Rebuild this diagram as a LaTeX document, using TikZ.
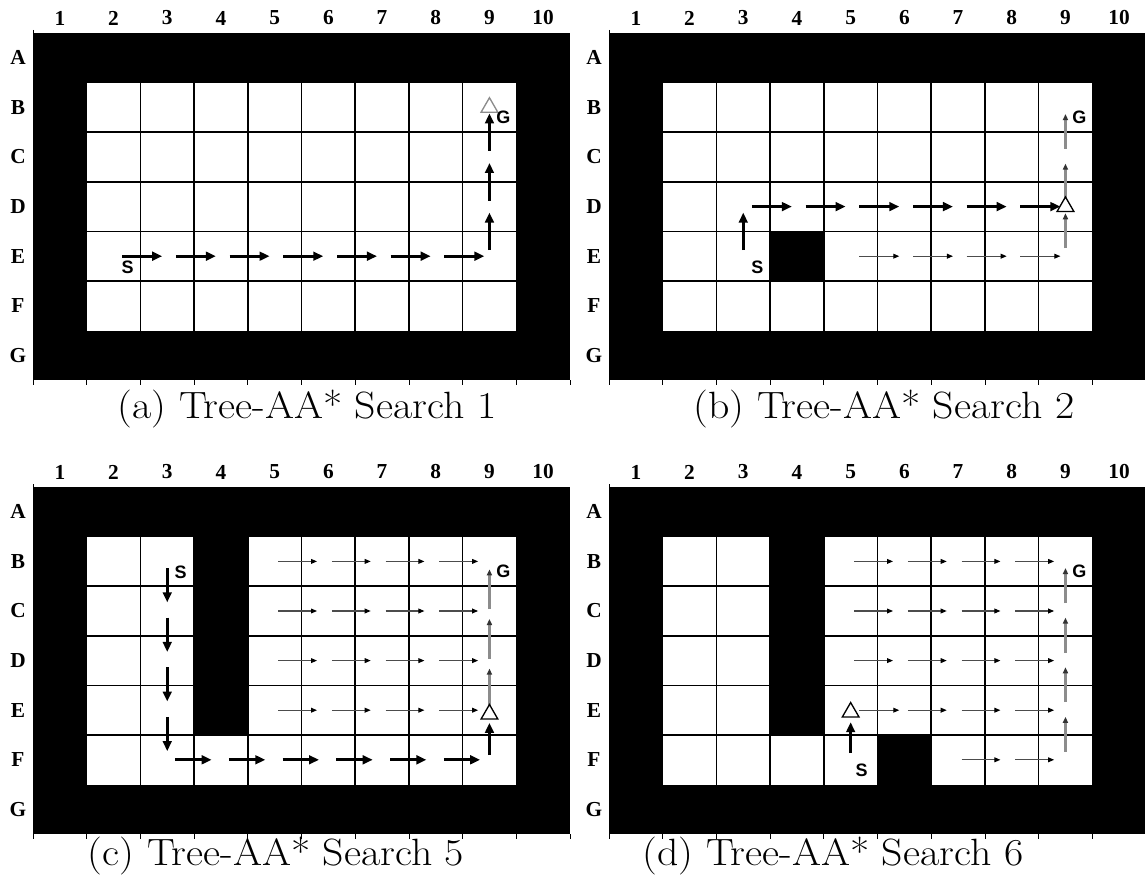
\documentclass[tikz,border=0pt]{standalone}
\usepackage{fontspec}
\newfontfamily\lblfont{Liberation Serif}
\newfontfamily\sgfont{Liberation Sans}
\usetikzlibrary{arrows.meta,shapes.geometric}
\newcommand\CW{53.7}
\newcommand\RH{49.6}
\tikzset{
  wall/.style={fill=black},
  gridline/.style={draw=black, line width=1.1pt},
  axisline/.style={draw=black, line width=0.6pt},
  axlabel/.style={font=\lblfont\bfseries\fontsize{16}{16}\selectfont, inner sep=0pt},
  capstyle/.style={font=\fontsize{28.5}{30}\selectfont, inner sep=0pt},
  sglabel/.style={font=\sgfont\bfseries\fontsize{13.5}{13.5}\selectfont, inner sep=0pt},
  patharrow/.style={draw=black, line width=2.3pt, -{Triangle[length=7.5pt,width=6.5pt]}},
  thinarrow/.style={draw=black!70, line width=0.8pt, -{Triangle[length=4.5pt,width=3.6pt,color=black]}},
  grayarrow/.style={draw=black!45, line width=1.8pt, -{Triangle[length=4.5pt,width=3.8pt,color=black!80]}},
  hsh/.style={shorten <=6.5pt, shorten >=3.8pt},
  hshb/.style={shorten <=2.6pt, shorten >=8.5pt},
  vsh/.style={shorten <=4.5pt, shorten >=4.5pt},
  gsh/.style={shorten <=6pt, shorten >=5pt},
  goal/.style={regular polygon, regular polygon sides=3, minimum size=14.5pt, inner sep=0pt, outer sep=0pt, draw=black, fill=white, line width=1pt},
}
% #1 name, #2 x0, #3 y0, #4 caption, #5 caption x, #6 caption y
\newcommand\mkpanel[6]{%
  \fill[wall] (#2,#3) rectangle ({#2+10*\CW},{#3+7*\RH});
  \fill[white] ({#2+\CW},{#3+\RH}) rectangle ({#2+9*\CW},{#3+6*\RH});
  \foreach \k in {2,...,8}
    \draw[gridline] ({#2+\k*\CW},{#3+\RH}) -- ({#2+\k*\CW},{#3+6*\RH});
  \foreach \k in {2,...,5}
    \draw[gridline] ({#2+\CW},{#3+\k*\RH}) -- ({#2+9*\CW},{#3+\k*\RH});
  \draw[axisline] (#2,{#3-3}) -- (#2,{#3+7*\RH+5});
  \foreach \k in {1,...,10}
    \draw[axisline] ({#2+\k*\CW},{#3+7*\RH}) -- ({#2+\k*\CW},{#3+7*\RH+5});
  \foreach \c in {1,...,10}{
    \node[axlabel] (#1-col\c) at ({#2+(\c-0.5)*\CW},{#3-15}) {\c};
    \foreach \r [count=\ri] in {A,B,C,D,E,F,G}
      \coordinate (#1-\c-\r) at ({#2+(\c-0.5)*\CW},{#3+(\ri-0.5)*\RH});
  }
  \foreach \r [count=\ri] in {A,B,C,D,E,F,G}
    \node[axlabel] (#1-row\r) at ({#2-15},{#3+(\ri-0.5)*\RH}) {\r};
  \node[capstyle] (#1-cap) at (#5,#6) {\scalebox{1.1}[1]{#4}};
}
% black cells: x0, y0, column, first row index, last row index
\newcommand\blk[5]{%
  \fill[wall] ({#1+(#3-1)*\CW-0.5},{#2+(#4-1)*\RH-0.5}) rectangle ({#1+#3*\CW+0.5},{#2+#5*\RH+0.5});
}
\begin{document}
\begin{tikzpicture}[x=0.75pt,y=-0.75pt]
\fill[white] (0,0) rectangle (1145,887);
\useasboundingbox (0,0) rectangle (1145,887);

% ---------------- (a)
\mkpanel{a}{33}{33}{(a) Tree-AA* Search 1}{307}{409}
\node[goal, draw=black!45] (a-goal) at (a-9-B) {};
\foreach \c [count=\n from 3] in {2,...,8}
  \draw[patharrow,hsh] (a-\c-E) -- (a-\n-E);
\draw[patharrow,vsh] (a-9-E) -- (a-9-D);
\draw[patharrow,vsh] (a-9-D) -- (a-9-C);
\draw[patharrow,vsh] (a-9-C) -- (a-9-B);
\node[sglabel, xshift=10.5pt, yshift=-7.5pt] (a-G) at (a-9-B) {G};
\node[sglabel, xshift=10.5pt, yshift=-8.25pt] (a-S) at (a-2-E) {S};

% ---------------- (b)
\mkpanel{b}{609}{33}{(b) Tree-AA* Search 2}{884}{409}
\blk{609}{33}{4}{5}{5}
\draw[patharrow,vsh] (b-3-E) -- (b-3-D);
\foreach \c [count=\n from 4] in {3,...,8}
  \draw[patharrow,hsh] (b-\c-D) -- (b-\n-D);
\foreach \c [count=\n from 6] in {5,...,8}
  \draw[thinarrow,hsh] (b-\c-E) -- (b-\n-E);
\draw[grayarrow,gsh] (b-9-E) -- (b-9-D);
\draw[grayarrow,gsh] (b-9-D) -- (b-9-C);
\draw[grayarrow,gsh] (b-9-C) -- (b-9-B);
\node[goal] (b-goal) at (b-9-D) {};
\node[sglabel, xshift=10.5pt, yshift=-7.5pt] (b-G) at (b-9-B) {G};
\node[sglabel, xshift=10.5pt, yshift=-8.25pt] (b-S) at (b-3-E) {S};

% ---------------- (c)
\mkpanel{c}{33}{487}{(c) Tree-AA* Search 5}{276}{856}
\blk{33}{487}{4}{2}{5}
\draw[patharrow,shorten <=5pt,shorten >=6.5pt] (c-3-B) -- (c-3-C);
\draw[patharrow,shorten <=5pt,shorten >=6.5pt] (c-3-C) -- (c-3-D);
\draw[patharrow,shorten <=5pt,shorten >=6.5pt] (c-3-D) -- (c-3-E);
\draw[patharrow,shorten <=5pt,shorten >=6.5pt] (c-3-E) -- (c-3-F);
\foreach \c [count=\n from 4] in {3,...,8}
  \draw[patharrow,shorten <=6pt,shorten >=7pt] (c-\c-F) -- (c-\n-F);
\draw[patharrow,shorten <=3.5pt,shorten >=9.5pt] (c-9-F) -- (c-9-E);
\foreach \r in {B,C,D,E}
  \foreach \c [count=\n from 6] in {5,...,8}
    \draw[thinarrow,hshb] (c-\c-\r) -- (c-\n-\r);
\draw[grayarrow,shorten <=1.5pt,shorten >=6pt] (c-9-E) -- (c-9-D);
\draw[grayarrow,shorten <=1.5pt,shorten >=6pt] (c-9-D) -- (c-9-C);
\draw[grayarrow,shorten <=1.5pt,shorten >=6pt] (c-9-C) -- (c-9-B);
\node[goal, yshift=-3pt] (c-goal) at (c-9-E) {};
\node[sglabel, xshift=10.5pt, yshift=-7.5pt] (c-G) at (c-9-B) {G};
\node[sglabel, xshift=10pt, yshift=-8pt] (c-S) at (c-3-B) {S};

% ---------------- (d)
\mkpanel{d}{609}{487}{(d) Tree-AA* Search 6}{833}{856}
\blk{609}{487}{4}{2}{5}
\blk{609}{487}{6}{6}{6}
\draw[patharrow,shorten <=5pt,shorten >=9pt] (d-5-F) -- (d-5-E);
\foreach \r in {B,C,D}
  \foreach \c [count=\n from 6] in {5,...,8}
    \draw[thinarrow,hshb] (d-\c-\r) -- (d-\n-\r);
\draw[thinarrow,hsh] (d-5-E) -- (d-6-E);
\foreach \c [count=\n from 7] in {6,...,8}
  \draw[thinarrow,hshb] (d-\c-E) -- (d-\n-E);
\foreach \c [count=\n from 8] in {7,8}
  \draw[thinarrow,hshb] (d-\c-F) -- (d-\n-F);
\draw[grayarrow,gsh] (d-9-F) -- (d-9-E);
\draw[grayarrow,gsh] (d-9-E) -- (d-9-D);
\draw[grayarrow,gsh] (d-9-D) -- (d-9-C);
\draw[grayarrow,gsh] (d-9-C) -- (d-9-B);
\node[goal, yshift=-1.5pt] (d-goal) at (d-5-E) {};
\node[sglabel, xshift=10.5pt, yshift=-7.5pt] (d-G) at (d-9-B) {G};
\node[sglabel, xshift=8.25pt, yshift=-7.5pt] (d-S) at (d-5-F) {S};
\end{tikzpicture}
\end{document}
